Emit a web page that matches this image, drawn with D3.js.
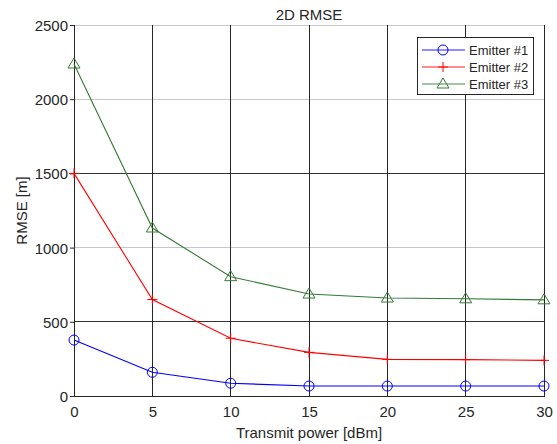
<!DOCTYPE html>
<html>
<head>
<meta charset="utf-8">
<script src="https://cdn.jsdelivr.net/npm/d3@7.9.0/dist/d3.min.js"></script>
<style>
  body { margin: 0; background: #fff; }
  svg { display: block; font-family: "Liberation Sans", Arial, sans-serif; }
  text { fill: #262626; }
</style>
</head>
<body>
<svg id="chart" width="557" height="444"></svg>
<script>
// data
const powers = [0, 5, 10, 15, 20, 25, 30];
const emitter1 = [377, 160, 86, 67, 67, 67, 67];
const emitter2 = [1500, 650, 389, 294, 247, 245, 240];
const emitter3 = [2237, 1132, 804, 687, 660, 655, 648];
const seriesNames = ["Emitter #1", "Emitter #2", "Emitter #3"];
const xTicks = [0, 5, 10, 15, 20, 25, 30];
const yTicks = [0, 500, 1000, 1500, 2000, 2500];

const series = [
    { name: seriesNames[0], values: emitter1, color: "#0000ff", marker: "circle" },
    { name: seriesNames[1], values: emitter2, color: "#ff0000", marker: "plus" },
    { name: seriesNames[2], values: emitter3, color: "#357a35", marker: "triangle" }
];

const svg = d3.select("#chart");
const margin = { left: 74, right: 13, top: 25, bottom: 48 };
const width = 557, height = 444;

const x = d3.scaleLinear().domain([0, 30]).range([margin.left, width - margin.right]);
const y = d3.scaleLinear().domain([0, 2500]).range([height - margin.bottom, margin.top]);

// horizontal grid (some lines render darker in the original)
svg.append("g")
    .selectAll("line")
    .data(yTicks.filter(d => d > 0))
    .join("line")
    .attr("x1", x(0)).attr("x2", x(30))
    .attr("y1", d => y(d)).attr("y2", d => y(d))
    .attr("stroke", d => (d === 500 || d === 1500) ? "#333" : "#c8c8c8")
    .attr("stroke-width", 1)
    .attr("shape-rendering", "crispEdges");

// vertical grid
svg.append("g")
    .selectAll("line")
    .data(xTicks.filter(d => d > 0))
    .join("line")
    .attr("x1", d => x(d)).attr("x2", d => x(d))
    .attr("y1", y(0)).attr("y2", y(2500))
    .attr("stroke", "#262626")
    .attr("stroke-width", 1)
    .attr("shape-rendering", "crispEdges");

// axes
const xAxis = svg.append("g")
    .attr("transform", `translate(0,${y(0)})`)
    .call(d3.axisBottom(x).tickValues(xTicks).tickFormat(d3.format("d")).tickSize(0).tickPadding(10));
const yAxis = svg.append("g")
    .attr("transform", `translate(${x(0)},0)`)
    .call(d3.axisLeft(y).tickValues(yTicks).tickFormat(d3.format("d")).tickSize(4).tickPadding(2));
[xAxis, yAxis].forEach(a => {
    a.select(".domain").attr("stroke", "#262626").attr("shape-rendering", "crispEdges");
    a.selectAll("line").attr("stroke", "#262626");
    a.selectAll("text").attr("font-size", 15).attr("font-family", "Liberation Sans, Arial, sans-serif").attr("fill", "#262626");
});
yAxis.selectAll("text").attr("dy", "0.36em");

// lines and markers
const line = d3.line().x((d, i) => x(powers[i])).y(d => y(d));

function drawMarker(g, type, color) {
    if (type === "circle") {
        g.append("circle").attr("r", 5).attr("fill", "none").attr("stroke", color);
    } else if (type === "plus") {
        g.append("path").attr("d", "M-5,0H5M0,-5V5").attr("stroke", color).attr("fill", "none");
    } else {
        g.append("path").attr("d", "M0,-6L6,4H-6Z").attr("stroke", color).attr("fill", "none");
    }
}

series.forEach(s => {
    svg.append("path")
        .datum(s.values)
        .attr("d", line)
        .attr("fill", "none")
        .attr("stroke", s.color)
        .attr("stroke-width", 1.1);
    svg.append("g")
        .selectAll("g")
        .data(s.values)
        .join("g")
        .attr("transform", (d, i) => `translate(${x(powers[i])},${y(d)})`)
        .each(function () { drawMarker(d3.select(this), s.marker, s.color); });
});

// title and labels
svg.append("text")
    .attr("x", (x(0) + x(30)) / 2).attr("y", 20)
    .attr("text-anchor", "middle").attr("font-size", 15)
    .text("2D RMSE");
svg.append("text")
    .attr("x", (x(0) + x(30)) / 2).attr("y", 438)
    .attr("text-anchor", "middle").attr("font-size", 15)
    .text("Transmit power [dBm]");
svg.append("text")
    .attr("transform", `translate(27,${(y(0) + y(2500)) / 2}) rotate(-90)`)
    .attr("text-anchor", "middle").attr("font-size", 15)
    .text("RMSE [m]");

// legend
const legend = svg.append("g").attr("transform", "translate(417,37)");
legend.append("rect")
    .attr("width", 116).attr("height", 57)
    .attr("fill", "#fff").attr("stroke", "#262626")
    .attr("shape-rendering", "crispEdges");
series.forEach((s, i) => {
    const row = legend.append("g").attr("transform", `translate(0,${13 + i * 17})`);
    row.append("line").attr("x1", 5).attr("x2", 48)
        .attr("stroke", s.color).attr("stroke-opacity", 0.6).attr("stroke-width", 1.5);
    const m = row.append("g").attr("transform", "translate(26,0)");
    drawMarker(m, s.marker, s.color);
    row.append("text").attr("x", 52).attr("dy", "0.36em")
        .attr("font-size", 13).text(s.name);
});
</script>
</body>
</html>
